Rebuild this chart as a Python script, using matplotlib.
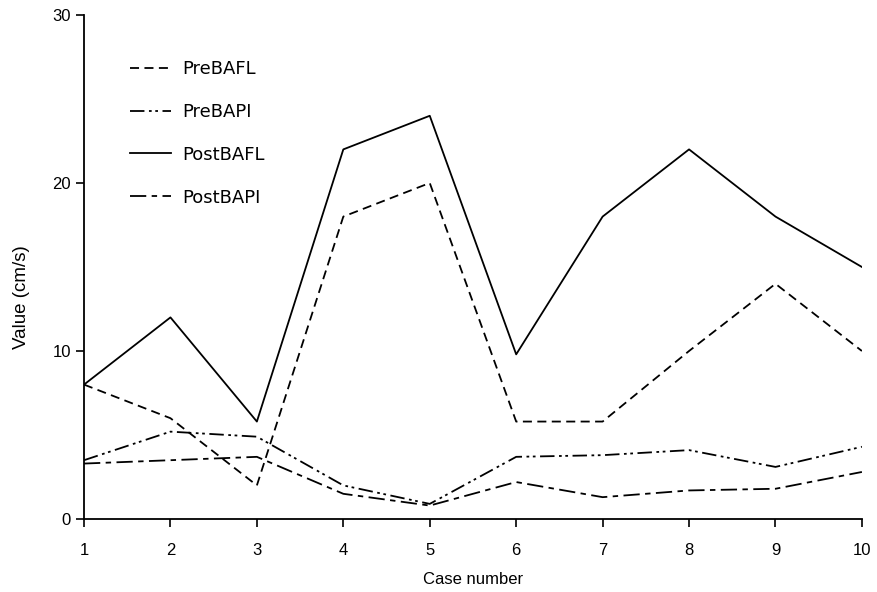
import matplotlib
matplotlib.use("Agg")
import matplotlib.pyplot as plt

plt.rcParams['font.family'] = ['Liberation Sans', 'DejaVu Sans']

cases = [1, 2, 3, 4, 5, 6, 7, 8, 9, 10]
pre_bafl = [8.0, 6.0, 2.0, 18.0, 20.0, 5.8, 5.8, 10.0, 14.0, 10.0]
pre_bapi = [3.5, 5.2, 4.9, 2.0, 0.9, 3.7, 3.8, 4.1, 3.1, 4.3]
post_bafl = [8.0, 12.0, 5.8, 22.0, 24.0, 9.8, 18.0, 22.0, 18.0, 15.0]
post_bapi = [3.3, 3.5, 3.7, 1.5, 0.8, 2.2, 1.3, 1.7, 1.8, 2.8]

fig = plt.figure(figsize=(8.77, 5.92), dpi=100)
ax = fig.add_axes([0.0958, 0.1233, 0.887, 0.8514])

lw = 1.3
ax.plot(cases, pre_bafl, color='black', lw=lw, linestyle=(0, (5, 3)), label='PreBAFL')
ax.plot(cases, pre_bapi, color='black', lw=lw, linestyle=(0, (8, 2.5, 1.5, 2, 1.5, 2.5)), label='PreBAPI')
ax.plot(cases, post_bafl, color='black', lw=lw, linestyle='-', label='PostBAFL')
ax.plot(cases, post_bapi, color='black', lw=lw, linestyle=(0, (9, 3, 3, 3)), label='PostBAPI')

ax.set_xlim(1, 10)
ax.set_ylim(0, 30)
ax.set_xticks(cases)
ax.set_yticks([0, 10, 20, 30])
ax.spines['top'].set_visible(False)
ax.spines['right'].set_visible(False)
ax.spines['left'].set_linewidth(1.3)
ax.spines['bottom'].set_linewidth(1.3)
ax.tick_params(direction='out', length=6, width=1.2, labelsize=12)
ax.tick_params(axis='x', pad=11)

ax.set_xlabel('Case number', fontsize=12, labelpad=10)
ax.set_ylabel('Value (cm/s)', fontsize=13.5)
ax.yaxis.set_label_coords(-0.069, 0.44)

leg = ax.legend(loc='upper left', bbox_to_anchor=(0.059, 0.91), frameon=False,
                prop={'family': 'DejaVu Sans', 'size': 13},
                handlelength=2.3, labelspacing=1.37, handletextpad=0.6,
                borderpad=0, borderaxespad=0)

fig.savefig('out.png', dpi=100)
